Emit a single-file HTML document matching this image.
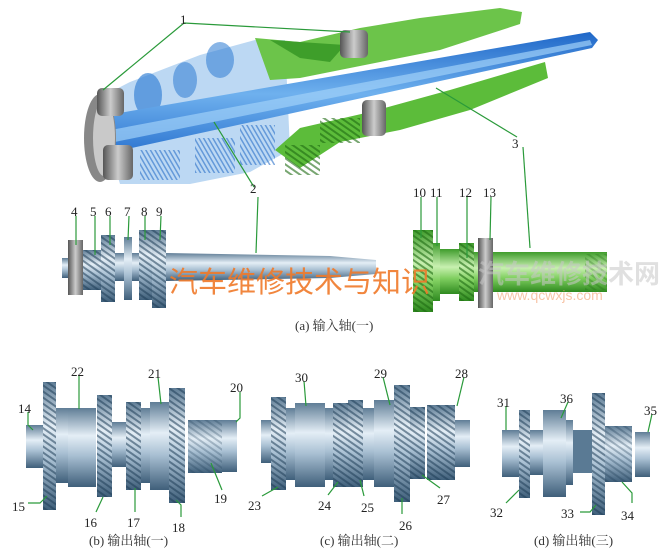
<!DOCTYPE html>
<html><head><meta charset="utf-8"><style>
html,body{margin:0;padding:0;background:#fff;}
svg{display:block;}
.l{font-family:"Liberation Serif",serif;font-size:13px;fill:#222;}
.c{font-family:"Liberation Serif","Noto Serif CJK SC",serif;font-size:13px;fill:#333;}
.g{stroke:#2a9a3a;stroke-width:1.2;fill:none;}
</style></head><body>
<svg width="667" height="555" viewBox="0 0 667 555" xmlns="http://www.w3.org/2000/svg">
<defs>
<linearGradient id="st" x1="0" y1="0" x2="0" y2="1">
<stop offset="0" stop-color="#5f7d96"/><stop offset=".35" stop-color="#e4eef6"/><stop offset=".6" stop-color="#a9c0d3"/><stop offset="1" stop-color="#3f5f7a"/></linearGradient>
<linearGradient id="gr" x1="0" y1="0" x2="0" y2="1">
<stop offset="0" stop-color="#3f9c2c"/><stop offset=".4" stop-color="#c8f0b0"/><stop offset=".65" stop-color="#80cf60"/><stop offset="1" stop-color="#2f8a20"/></linearGradient>
<linearGradient id="dk" x1="0" y1="0" x2="1" y2="0">
<stop offset="0" stop-color="#555"/><stop offset=".5" stop-color="#ccc"/><stop offset="1" stop-color="#666"/></linearGradient>
<pattern id="tt" width="5" height="5" patternUnits="userSpaceOnUse" patternTransform="rotate(35)">
<rect width="5" height="2" fill="#1f3d58" opacity=".55"/></pattern>
<pattern id="tg" width="5" height="5" patternUnits="userSpaceOnUse" patternTransform="rotate(35)">
<rect width="5" height="2" fill="#1e6a12" opacity=".6"/></pattern>
<pattern id="tb" width="4" height="4" patternUnits="userSpaceOnUse" patternTransform="rotate(60)">
<rect width="4" height="1.5" fill="#2a6fc8" opacity=".6"/></pattern>
<linearGradient id="bc" x1="0" y1="0" x2="0" y2="1">
<stop offset="0" stop-color="#1f67c8"/><stop offset=".5" stop-color="#6fb1ee"/><stop offset="1" stop-color="#2a73cf"/></linearGradient>
</defs>

<!-- top 3D shaft -->
<polygon points="95,100 130,82 200,55 255,40 285,40 290,150 250,172 190,184 120,184" fill="#bcd8f3"/>
<ellipse cx="148" cy="95" rx="14" ry="22" fill="#3b84d6" opacity=".7"/>
<ellipse cx="185" cy="80" rx="12" ry="18" fill="#3b84d6" opacity=".6"/>
<ellipse cx="220" cy="60" rx="14" ry="18" fill="#3b84d6" opacity=".6"/>
<rect x="140" y="150" width="40" height="30" fill="url(#tb)"/>
<rect x="195" y="138" width="40" height="35" fill="url(#tb)"/>
<rect x="240" y="125" width="35" height="40" fill="url(#tb)"/>
<polygon points="255,38 300,42 360,28 420,18 500,8 522,12 520,24 440,50 370,64 300,78 270,80" fill="#6cc44a"/>
<polygon points="270,40 300,58 330,62 345,45" fill="#3e9e2a"/>
<polygon points="275,150 300,128 370,112 450,90 545,62 548,78 470,110 400,130 340,142 300,168" fill="#5cbc3a"/>
<rect x="285" y="145" width="35" height="30" fill="url(#tg)"/>
<rect x="320" y="118" width="40" height="25" fill="url(#tg)"/>
<polygon points="90,118 590,32 598,40 592,48 95,156" fill="url(#bc)"/>
<polygon points="100,132 590,40 592,45 100,145" fill="#9fd0f8" opacity=".7"/>
<ellipse cx="100" cy="138" rx="16" ry="44" fill="#888"/>
<ellipse cx="104" cy="138" rx="11" ry="38" fill="#c9c9c9"/>
<rect x="97" y="88" width="27" height="28" rx="5" fill="url(#dk)"/>
<rect x="103" y="145" width="30" height="35" rx="5" fill="url(#dk)"/>
<rect x="340" y="30" width="28" height="28" rx="5" fill="url(#dk)"/>
<rect x="362" y="100" width="24" height="36" rx="5" fill="url(#dk)"/>

<!-- (a) input shaft -->
<rect x="62" y="258" width="10" height="20" fill="url(#st)"/>
<rect x="68" y="240" width="15" height="55" fill="url(#dk)"/>
<rect x="83" y="250" width="18" height="40" fill="url(#st)"/><rect x="83" y="250" width="18" height="40" fill="url(#tt)"/>
<rect x="101" y="235" width="14" height="67" fill="url(#st)"/><rect x="101" y="235" width="14" height="67" fill="url(#tt)"/>
<rect x="115" y="253" width="10" height="28" fill="url(#st)"/>
<rect x="124" y="237" width="8" height="63" fill="url(#st)"/>
<rect x="132" y="253" width="8" height="28" fill="url(#st)"/>
<rect x="139" y="230" width="13" height="70" fill="url(#st)"/><rect x="139" y="230" width="13" height="70" fill="url(#tt)"/>
<rect x="152" y="230" width="14" height="78" fill="url(#st)"/><rect x="152" y="230" width="14" height="78" fill="url(#tt)"/>
<polygon points="166,253 330,256 376,260 376,274 330,278 166,281" fill="url(#st)"/>
<rect x="413" y="230" width="20" height="82" fill="url(#gr)"/><rect x="413" y="230" width="20" height="82" fill="url(#tg)"/>
<rect x="433" y="243" width="7" height="58" fill="url(#gr)"/>
<rect x="440" y="249" width="19" height="45" fill="url(#gr)"/>
<rect x="459" y="243" width="15" height="58" fill="url(#gr)"/><rect x="459" y="243" width="15" height="58" fill="url(#tg)"/>
<rect x="474" y="252" width="6" height="40" fill="url(#gr)"/>
<rect x="478" y="238" width="15" height="70" fill="url(#dk)"/>
<rect x="493" y="252" width="114" height="40" fill="url(#gr)"/>
<rect x="585" y="254" width="22" height="36" fill="url(#tg)" opacity=".5"/>

<text x="169" y="292" font-family="'Liberation Sans','Noto Sans CJK SC',sans-serif" font-size="29" fill="#f07a2a" opacity=".9">汽车维修技术与知识</text>
<text x="478" y="283" font-family="'Liberation Sans','Noto Sans CJK SC',sans-serif" font-size="26" font-weight="bold" fill="#c8c8c8" opacity=".55">汽车维修技术网</text>
<text x="497" y="300" font-family="'Liberation Sans',sans-serif" font-size="14" fill="#f2a070" opacity=".6">www.qcwxjs.com</text>

<!-- leaders top -->
<polyline class="g" points="103,90 184,23 350,32"/>
<polyline class="g" points="214,122 254,187"/>
<polyline class="g" points="258,197 256,253"/>
<polyline class="g" points="436,88 517,137"/>
<polyline class="g" points="523,147 530,248"/>
<line class="g" x1="76" y1="216" x2="76" y2="245"/>
<line class="g" x1="95" y1="216" x2="95" y2="255"/>
<line class="g" x1="110" y1="216" x2="110" y2="245"/>
<line class="g" x1="129" y1="216" x2="128" y2="240"/>
<line class="g" x1="145" y1="216" x2="145" y2="240"/>
<line class="g" x1="161" y1="216" x2="160" y2="240"/>
<line class="g" x1="421" y1="197" x2="421" y2="238"/>
<line class="g" x1="437" y1="197" x2="437" y2="246"/>
<line class="g" x1="467" y1="197" x2="467" y2="258"/>
<line class="g" x1="491" y1="197" x2="490" y2="240"/>

<text class="l" x="180" y="24">1</text>
<text class="l" x="250" y="193">2</text>
<text class="l" x="512" y="148">3</text>
<text class="l" x="71" y="216">4</text><text class="l" x="90" y="216">5</text><text class="l" x="105" y="216">6</text>
<text class="l" x="124" y="216">7</text><text class="l" x="141" y="216">8</text><text class="l" x="156" y="216">9</text>
<text class="l" x="413" y="197">10</text><text class="l" x="430" y="197">11</text><text class="l" x="459" y="197">12</text><text class="l" x="483" y="197">13</text>
<text class="c" x="295" y="330">(a) 输入轴(一)</text>

<!-- (b) -->
<rect x="26" y="425" width="17" height="43" fill="url(#st)"/>
<rect x="43" y="382" width="13" height="128" fill="url(#st)"/><rect x="43" y="382" width="13" height="128" fill="url(#tt)"/>
<rect x="56" y="408" width="12" height="75" fill="url(#st)"/>
<rect x="68" y="408" width="28" height="79" fill="url(#st)"/>
<rect x="97" y="395" width="15" height="102" fill="url(#st)"/><rect x="97" y="395" width="15" height="102" fill="url(#tt)"/>
<rect x="112" y="422" width="14" height="45" fill="url(#st)"/>
<rect x="126" y="402" width="15" height="88" fill="url(#st)"/><rect x="126" y="402" width="15" height="88" fill="url(#tt)"/>
<rect x="141" y="408" width="9" height="75" fill="url(#st)"/>
<rect x="150" y="402" width="19" height="88" fill="url(#st)"/>
<rect x="169" y="388" width="16" height="115" fill="url(#st)"/><rect x="169" y="388" width="16" height="115" fill="url(#tt)"/>
<rect x="188" y="420" width="34" height="53" fill="url(#st)"/><rect x="188" y="420" width="34" height="53" fill="url(#tt)" opacity=".5"/>
<rect x="222" y="420" width="15" height="52" fill="url(#st)"/>
<!-- (c) -->
<rect x="261" y="420" width="10" height="43" fill="url(#st)"/>
<rect x="271" y="397" width="15" height="93" fill="url(#st)"/><rect x="271" y="397" width="15" height="93" fill="url(#tt)"/>
<rect x="286" y="408" width="9" height="72" fill="url(#st)"/>
<rect x="295" y="403" width="30" height="84" fill="url(#st)"/>
<rect x="325" y="408" width="8" height="72" fill="url(#st)"/>
<rect x="333" y="403" width="15" height="84" fill="url(#st)"/><rect x="333" y="403" width="15" height="84" fill="url(#tt)"/>
<rect x="348" y="400" width="15" height="87" fill="url(#st)"/><rect x="348" y="400" width="15" height="87" fill="url(#tt)"/>
<rect x="363" y="408" width="11" height="72" fill="url(#st)"/>
<rect x="374" y="400" width="20" height="87" fill="url(#st)"/>
<rect x="394" y="385" width="16" height="117" fill="url(#st)"/><rect x="394" y="385" width="16" height="117" fill="url(#tt)"/>
<rect x="410" y="407" width="15" height="72" fill="url(#st)"/><rect x="410" y="407" width="15" height="72" fill="url(#tt)"/>
<rect x="427" y="405" width="28" height="75" fill="url(#st)"/><rect x="427" y="405" width="28" height="75" fill="url(#tt)"/>
<rect x="455" y="420" width="15" height="47" fill="url(#st)"/>
<!-- (d) -->
<rect x="502" y="430" width="17" height="47" fill="url(#st)"/>
<rect x="519" y="410" width="11" height="88" fill="url(#st)"/><rect x="519" y="410" width="11" height="88" fill="url(#tt)"/>
<rect x="530" y="430" width="13" height="45" fill="url(#st)"/>
<rect x="543" y="410" width="23" height="87" fill="url(#st)"/>
<rect x="566" y="420" width="7" height="65" fill="url(#st)"/>
<rect x="573" y="430" width="19" height="43" fill="#5a7a94"/>
<rect x="592" y="393" width="13" height="122" fill="url(#st)"/><rect x="592" y="393" width="13" height="122" fill="url(#tt)"/>
<rect x="605" y="426" width="27" height="56" fill="url(#st)"/><rect x="605" y="426" width="27" height="56" fill="url(#tt)" opacity=".6"/>
<rect x="635" y="432" width="15" height="45" fill="url(#st)"/>

<!-- leaders bottom -->
<polyline class="g" points="79,376 79,409"/>
<polyline class="g" points="158,377 161,404"/>
<polyline class="g" points="240,392 240,418 236,422"/>
<polyline class="g" points="28,412 28,425 33,430"/>
<polyline class="g" points="28,503 40,503 47,496"/>
<polyline class="g" points="96,512 103,497"/>
<polyline class="g" points="135,512 135,488"/>
<polyline class="g" points="181,517 181,505 176,500"/>
<polyline class="g" points="222,490 211,463"/>
<polyline class="g" points="304,381 306,406"/>
<polyline class="g" points="383,377 390,405"/>
<polyline class="g" points="464,377 457,406"/>
<polyline class="g" points="262,496 278,487"/>
<polyline class="g" points="328,495 338,482"/>
<polyline class="g" points="364,496 360,480"/>
<polyline class="g" points="402,514 402,498"/>
<polyline class="g" points="440,488 422,475"/>
<polyline class="g" points="506,406 506,430"/>
<polyline class="g" points="568,402 561,418"/>
<polyline class="g" points="652,414 648,432"/>
<polyline class="g" points="506,503 519,490"/>
<polyline class="g" points="580,512 590,512 596,505"/>
<polyline class="g" points="632,503 632,493 622,482"/>

<text class="l" x="71" y="376">22</text><text class="l" x="148" y="378">21</text><text class="l" x="230" y="392">20</text>
<text class="l" x="18" y="413">14</text><text class="l" x="12" y="511">15</text><text class="l" x="84" y="527">16</text>
<text class="l" x="127" y="527">17</text><text class="l" x="172" y="532">18</text><text class="l" x="214" y="503">19</text>
<text class="l" x="295" y="382">30</text><text class="l" x="374" y="378">29</text><text class="l" x="455" y="378">28</text>
<text class="l" x="248" y="510">23</text><text class="l" x="318" y="510">24</text><text class="l" x="361" y="512">25</text>
<text class="l" x="399" y="530">26</text><text class="l" x="437" y="504">27</text>
<text class="l" x="497" y="407">31</text><text class="l" x="560" y="403">36</text><text class="l" x="644" y="415">35</text>
<text class="l" x="490" y="517">32</text><text class="l" x="561" y="518">33</text><text class="l" x="621" y="520">34</text>
<text class="c" x="89" y="545">(b) 输出轴(一)</text>
<text class="c" x="320" y="545">(c) 输出轴(二)</text>
<text class="c" x="534" y="545">(d) 输出轴(三)</text>
</svg>
</body></html>
